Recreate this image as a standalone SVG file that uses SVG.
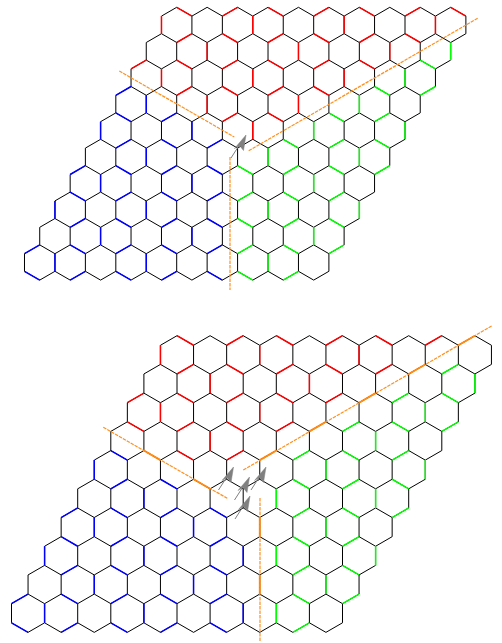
<svg xmlns="http://www.w3.org/2000/svg" width="502" height="643" viewBox="0 0 502 643">
<style>
path{fill:none;vector-effect:non-scaling-stroke;stroke-linecap:butt}
.k{stroke:#000;stroke-width:1}
.r{stroke:#f00;stroke-width:1.5}
.b{stroke:#00f;stroke-width:1.5}
.g{stroke:#0f0;stroke-width:1.5}
.o{stroke:#ff8000;stroke-width:1.8}
.cut{stroke:#ff9020;stroke-width:1.2;fill:none;stroke-dasharray:3.5 1}
.arrow{fill:#808080;stroke:#808080;stroke-width:.5}
.shaft{stroke:#808080;stroke-width:1;fill:none}
</style>
<defs>
<path id="t" class="k" d="M0 0l1-1 1 1 1-1 1 1 1-1 1 1 1-1 1 1 1-1 1 1 1-1 1 1 1-1 1 1 1-1 1 1 1-1 1 1 1-1 1 1"/>
<path id="m" class="k" d="M0 0l1-1 1 1 1-1 1 1 1-1 1 1 1-1 1 1 1-1 1 1 1-1 1 1 1-1 1 1 1-1 1 1 1-1 1 1 1-1 1 1 1-1"/>
<path id="e" class="k" d="M0 0l1 1 1-1 1 1 1-1 1 1 1-1 1 1 1-1 1 1 1-1 1 1 1-1 1 1 1-1 1 1 1-1 1 1 1-1 1 1 1-1"/>
<path id="v" class="k" d="M0 0v2m2-2v2m2-2v2m2-2v2m2-2v2m2-2v2m2-2v2m2-2v2m2-2v2m2-2v2m2-2v2"/>
<g id="lat">
<use href="#t" x="-1" y="-1"/><use href="#m" x="-2" y="2"/><use href="#m" x="-3" y="5"/><use href="#m" x="-4" y="8"/><use href="#m" x="-5" y="11"/><use href="#m" x="-6" y="14"/><use href="#m" x="-7" y="17"/><use href="#m" x="-8" y="20"/><use href="#m" x="-9" y="23"/><use href="#m" x="-10" y="26"/><use href="#e" x="-10" y="28"/>
<use href="#v" x="-1" y="-1"/><use href="#v" x="-2" y="2"/><use href="#v" x="-3" y="5"/><use href="#v" x="-4" y="8"/><use href="#v" x="-5" y="11"/><use href="#v" x="-6" y="14"/><use href="#v" x="-7" y="17"/><use href="#v" x="-8" y="20"/><use href="#v" x="-9" y="23"/><use href="#v" x="-10" y="26"/>
</g>
<g id="ar"><path class="shaft" d="M-15 23L-6 9"/><polygon class="arrow" points="0,0 -11.5,13.5 -6.5,10.5 -2.5,15.5"/></g>
</defs>
<g id="panel-top">
<g transform="matrix(15.22 0 0 8.8 176.7 24.9)">
<use href="#lat"/>
<path id="top-red" class="r" d="M-1-1v2M5-1v2M11-1v2M17-1v2M2 2v2M8 2v2M14 2v2M-1 5v2M5 5v2M11 5v2M2 8v2M8 8v2M5 11v2M0-2l1 1M6-2l1 1M12-2l1 1M18-2l1 1M3 1l1 1M9 1l1 1M15 1l1 1M0 4l1 1M6 4l1 1M12 4l1 1M3 7l1 1M9 7l1 1M6 10l1 1M3-1l1-1M9-1l1-1M15-1l1-1M0 2l1-1M6 2l1-1M12 2l1-1M-3 5l1-1M3 5l1-1M9 5l1-1M0 8l1-1M6 8l1-1M3 11l1-1"/>
<path id="top-blue" class="b" d="M-2 8v2M-5 11v2M1 11v2M-2 14v2M-5 17v2M1 17v2M-8 20v2M-2 20v2M-5 23v2M1 23v2M-8 26v2M-2 26v2M-4 10l1 1M-1 13l1 1M-4 16l1 1M2 16l1 1M-7 19l1 1M-1 19l1 1M-4 22l1 1M2 22l1 1M-7 25l1 1M-1 25l1 1M-10 28l1 1M-4 28l1 1M2 28l1 1M-4 8l1-1M-1 11l1-1M-4 14l1-1M2 14l1-1M-7 17l1-1M-1 17l1-1M-4 20l1-1M2 20l1-1M-7 23l1-1M-1 23l1-1M-10 26l1-1M-4 26l1-1M2 26l1-1M-7 29l1-1M-1 29l1-1"/>
<path id="top-green" class="g" d="M18 2v2M15 5v2M12 8v2M9 11v2M15 11v2M6 14v2M12 14v2M9 17v2M6 20v2M12 20v2M9 23v2M6 26v2M16 4l1 1M13 7l1 1M10 10l1 1M7 13l1 1M13 13l1 1M4 16l1 1M10 16l1 1M7 19l1 1M4 22l1 1M10 22l1 1M7 25l1 1M4 28l1 1M16 8l1-1M13 11l1-1M10 14l1-1M7 17l1-1M13 17l1-1M4 20l1-1M10 20l1-1M7 23l1-1M4 26l1-1M10 26l1-1M7 29l1-1"/>
</g>
<g id="top-cuts">
<line class="cut" x1="119.3" y1="71" x2="234.3" y2="137"/>
<line class="cut" x1="248.7" y1="150.7" x2="477.7" y2="18.3"/>
<line class="cut" x1="230" y1="157" x2="230" y2="290"/>
</g>
<g id="top-arrows"><use href="#ar" x="246" y="135"/></g>
</g>
<g id="panel-bottom">
<g transform="matrix(16.55 0 0 9.57 177 354.84)">
<use href="#lat"/>
<path id="bottom-red" class="r" d="M-1-1v2M5-1v2M11-1v2M2 2v2M8 2v2M-1 5v2M5 5v2M2 8v2M0-2l1 1M6-2l1 1M12-2l1 1M3 1l1 1M9 1l1 1M0 4l1 1M6 4l1 1M-3 7l1 1M3 7l1 1M0 10l1 1M3-1l1-1M9-1l1-1M15-1l1-1M0 2l1-1M6 2l1-1M12 2l1-1M-3 5l1-1M3 5l1-1M9 5l1-1M0 8l1-1M6 8l1-1M3 11l1-1"/>
<path id="bottom-blue" class="b" d="M-5 11v2M-2 14v2M-5 17v2M1 17v2M-8 20v2M-2 20v2M4 20v2M-5 23v2M1 23v2M-8 26v2M-2 26v2M4 26v2M-4 10l1 1M-1 13l1 1M-4 16l1 1M2 16l1 1M-7 19l1 1M-1 19l1 1M-4 22l1 1M2 22l1 1M-7 25l1 1M-1 25l1 1M-10 28l1 1M-4 28l1 1M2 28l1 1M-4 14l1-1M-7 17l1-1M-1 17l1-1M-4 20l1-1M2 20l1-1M-7 23l1-1M-1 23l1-1M-10 26l1-1M-4 26l1-1M2 26l1-1M-7 29l1-1M-1 29l1-1"/>
<path id="bottom-green" class="g" d="M18 2v2M15 5v2M12 8v2M9 11v2M15 11v2M6 14v2M12 14v2M9 17v2M6 20v2M12 20v2M9 23v2M6 26v2M16 4l1 1M13 7l1 1M10 10l1 1M7 13l1 1M13 13l1 1M10 16l1 1M7 19l1 1M10 22l1 1M7 25l1 1M16 2l1-1M13 5l1-1M10 8l1-1M16 8l1-1M7 11l1-1M13 11l1-1M10 14l1-1M7 17l1-1M13 17l1-1M10 20l1-1M7 23l1-1M10 26l1-1M7 29l1-1"/>
<path id="bottom-orange" class="o" d="M-2 10l1 1M1 13l1 1M17-1l1-1M14 2l1-1M11 5l1-1M8 8l1-1M5 11l1-1M5 17v2M5 23v2"/>
</g>
<g id="bottom-cuts">
<line class="cut" x1="103.3" y1="427.3" x2="227.3" y2="498.3"/>
<line class="cut" x1="243.3" y1="470" x2="491.7" y2="326"/>
<line class="cut" x1="260" y1="498" x2="260" y2="641"/>
</g>
<g id="bottom-arrows">
<use href="#ar" x="233.5" y="467"/>
<use href="#ar" x="249.5" y="477"/>
<use href="#ar" x="266" y="467"/>
<use href="#ar" x="250" y="496"/>
</g>
</g>
</svg>
